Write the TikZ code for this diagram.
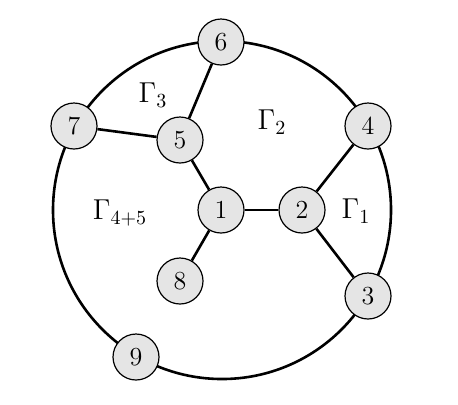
\documentclass[tikz,border=0pt]{standalone}
\usepackage{tikz}

\tikzset{vert/.style={circle, draw, fill=gray!20, line width=0.6pt, minimum size=23pt, inner sep=0pt, font=\fontsize{13}{15}\selectfont}}
\tikzset{edge/.style={line width=1.3pt}}
\tikzset{face/.style={font=\fontsize{14}{16}\selectfont}}

\begin{document}
\begin{tikzpicture}[x=0.5pt, y=-0.5pt]
				\useasboundingbox (0, 0) rectangle (458, 404);
				\draw [edge] (222, 210) circle [radius=169];
				\node [vert] (n1) at (221, 210) {1};
				\node [vert] (n2) at (302, 210) {2};
				\node [vert] (n3) at (368, 296) {3};
				\node [vert] (n4) at (368, 126) {4};
				\node [vert] (n5) at (180, 140) {5};
				\node [vert] (n6) at (221, 42) {6};
				\node [vert] (n7) at (74, 126) {7};
				\node [vert] (n8) at (180, 281) {8};
				\node [vert] (n9) at (136, 357) {9};
				\draw [edge] (n1) -- (n5);
				\draw [edge] (n5) -- (n6);
				\draw [edge] (n5) -- (n7);
				\draw [edge] (n1) -- (n2);
				\draw [edge] (n1) -- (n8);
				\draw [edge] (n2) -- (n4);
				\draw [edge] (n2) -- (n3);
				\node [face] (g1) at (356, 211) {\(\Gamma_1\)};
				\node [face] (g2) at (272, 122) {\(\Gamma_2\)};
				\node [face] (g3) at (153, 95) {\(\Gamma_3\)};
				\node [face] (g45) at (120, 213) {\(\Gamma_{4+5}\)};
			\end{tikzpicture}
\end{document}
